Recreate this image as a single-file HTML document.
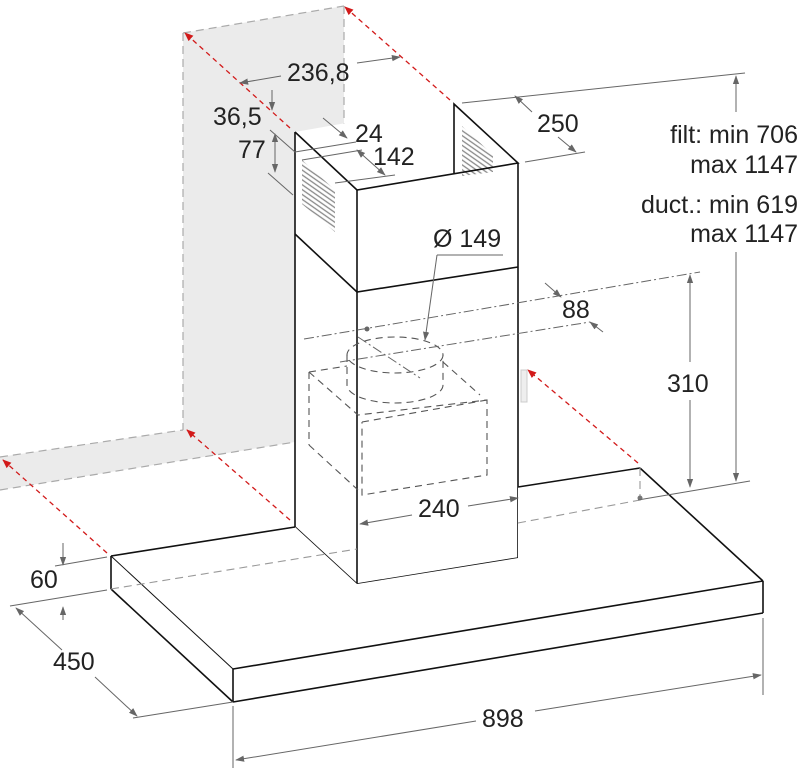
<!DOCTYPE html>
<html><head><meta charset="utf-8"><style>
html,body{margin:0;padding:0;background:#fff;}
svg{display:block;}
text{font-family:"Liberation Sans",sans-serif;font-size:25px;fill:#222;}
</style></head><body>
<svg width="800" height="775" viewBox="0 0 800 775" xmlns="http://www.w3.org/2000/svg">
<defs>
<marker id="r" viewBox="0 0 10 10" refX="9" refY="5" markerWidth="9" markerHeight="9" markerUnits="userSpaceOnUse" orient="auto"><path d="M0,1 L10,5 L0,9 z" fill="#d21a1a"/></marker>
<marker id="g" viewBox="0 0 10 10" refX="9" refY="5" markerWidth="9" markerHeight="9" markerUnits="userSpaceOnUse" orient="auto"><path d="M0,1.5 L10,5 L0,8.5 z" fill="#666"/></marker>
<marker id="gs" viewBox="0 0 10 10" refX="1" refY="5" markerWidth="9" markerHeight="9" markerUnits="userSpaceOnUse" orient="auto"><path d="M10,1.5 L0,5 L10,8.5 z" fill="#666"/></marker>
<pattern id="vent" width="4" height="4" patternUnits="userSpaceOnUse" patternTransform="rotate(35)"><line x1="0" y1="2" x2="4" y2="2" stroke="#888" stroke-width="1.3"/></pattern>
</defs>

<!-- gray wall -->
<polygon points="183,33 344,6 344,434 0,490 0,457 183,430" fill="#ebebeb"/>
<g stroke="#aaa" stroke-width="1.2" stroke-dasharray="8,5" fill="none">
<line x1="183" y1="33" x2="344" y2="6"/>
<line x1="183" y1="33" x2="183" y2="430"/>
<line x1="344" y1="6" x2="344" y2="140"/>
<line x1="0" y1="457" x2="183" y2="430"/>
<line x1="0" y1="490" x2="295" y2="442"/>
</g>
<rect x="521" y="370" width="6" height="32" fill="#eee" stroke="#ccc" stroke-width="1"/>

<!-- chimney -->
<polygon points="295,132 454,104 518,163 518,558 357,584 295,527" fill="#fff"/>
<polygon points="302,160 335,190 335,232 302,204" fill="url(#vent)"/>
<polygon points="462,126 493,155 493,172 462,176" fill="url(#vent)"/>
<g stroke="#111" stroke-width="1.6" fill="none">
<polyline points="295,132 357,190 518,163 454,104 454,173"/>
<line x1="295" y1="132" x2="295" y2="527"/>
<line x1="357" y1="190" x2="357" y2="584"/>
<line x1="518" y1="163" x2="518" y2="558"/>
<polyline points="295,234 357,292 518,267"/>
<polyline points="295,527 357,584 518,558"/>
</g>

<!-- box -->
<polygon points="111,556 295,527 295,527 357,584 518,558 518,487 640,468 763,581 763,613 233,702 111,589" fill="#fff"/>
<g stroke="#111" stroke-width="1.6" fill="none">
<line x1="111" y1="556" x2="295" y2="527"/>
<line x1="518" y1="487" x2="640" y2="468"/>
<line x1="640" y1="468" x2="763" y2="581"/>
<line x1="233" y1="669" x2="763" y2="581"/>
<line x1="763" y1="581" x2="763" y2="613"/>
<line x1="233" y1="702" x2="763" y2="613"/>
<line x1="111" y1="556" x2="233" y2="669" stroke-width="1"/>
<line x1="111" y1="589" x2="233" y2="702"/>
<line x1="111" y1="556" x2="111" y2="589"/>
<line x1="233" y1="669" x2="233" y2="702"/>
</g>
<g stroke="#999" stroke-width="1.1" stroke-dasharray="8,5" fill="none">
<line x1="111" y1="589" x2="357" y2="549"/>
<line x1="518" y1="523" x2="640" y2="500"/>
<line x1="640" y1="468" x2="640" y2="497"/>
</g>
<circle cx="640" cy="498" r="2.5" fill="#777"/>

<!-- hidden motor / duct -->
<g stroke="#555" stroke-width="1.1" stroke-dasharray="7,5" fill="none">
<ellipse cx="395" cy="355" rx="48" ry="18"/>
<path d="M347,355 L347,385 A48,18 0 0 0 443,385 L443,355"/>
<polyline points="309,372 358,415 487,400 487,475 362,495 362,422"/>
<line x1="309" y1="372" x2="309" y2="445"/>
<line x1="309" y1="445" x2="358" y2="490"/>
<line x1="309" y1="372" x2="347" y2="366"/>
<line x1="443" y1="362" x2="480" y2="395"/>
<line x1="362" y1="422" x2="487" y2="400"/>
</g>
<g stroke="#666" stroke-width="1" stroke-dasharray="10,3,2,3" fill="none">
<line x1="304" y1="339" x2="700" y2="272"/>
<line x1="340" y1="362" x2="590" y2="322"/>
<line x1="358" y1="337" x2="420" y2="378"/>
</g>
<circle cx="367" cy="329" r="2.5" fill="#666"/>

<!-- red arrows -->
<g stroke="#d21a1a" stroke-width="1.3" stroke-dasharray="5,4" fill="none">
<line x1="290" y1="128" x2="185" y2="33" marker-end="url(#r)"/>
<line x1="450" y1="100" x2="345" y2="7" marker-end="url(#r)"/>
<line x1="107" y1="553" x2="3" y2="460" marker-end="url(#r)"/>
<line x1="290" y1="520" x2="187" y2="430" marker-end="url(#r)"/>
<line x1="638" y1="463" x2="528" y2="370" marker-end="url(#r)"/>
</g>

<!-- dimension lines -->
<g stroke="#666" stroke-width="1" fill="none">
<line x1="281" y1="76" x2="240" y2="83" marker-end="url(#g)"/>
<line x1="357" y1="63" x2="400" y2="57" marker-end="url(#g)"/>
<line x1="272" y1="90" x2="272" y2="110" marker-end="url(#g)"/>
<line x1="270" y1="130" x2="295" y2="152"/>
<line x1="268" y1="173" x2="293" y2="195"/>
<line x1="275" y1="134" x2="275" y2="172" marker-start="url(#gs)" marker-end="url(#g)"/>
<line x1="323" y1="118" x2="347" y2="138" marker-end="url(#g)"/>
<line x1="295" y1="152" x2="356" y2="142"/>
<line x1="302" y1="160" x2="362" y2="150"/>
<line x1="357" y1="150" x2="385" y2="175" marker-start="url(#gs)" marker-end="url(#g)"/>
<line x1="335" y1="183" x2="395" y2="175"/>
<line x1="437" y1="255" x2="503" y2="255"/>
<line x1="437" y1="255" x2="425" y2="340" marker-end="url(#g)"/>
<line x1="462" y1="103" x2="745" y2="73"/>
<line x1="525" y1="162" x2="585" y2="152"/>
<line x1="532" y1="112" x2="515" y2="96" marker-end="url(#g)"/>
<line x1="558" y1="137" x2="576" y2="152" marker-end="url(#g)"/>
<line x1="736" y1="112" x2="736" y2="76" marker-end="url(#g)"/>
<line x1="736" y1="252" x2="736" y2="481" marker-end="url(#g)"/>
<line x1="690" y1="362" x2="690" y2="275" marker-end="url(#g)"/>
<line x1="690" y1="400" x2="690" y2="487" marker-end="url(#g)"/>
<line x1="638" y1="500" x2="750" y2="481"/>
<line x1="545" y1="283" x2="561" y2="297" marker-end="url(#g)"/>
<line x1="603" y1="332" x2="590" y2="322" marker-end="url(#g)"/>
<line x1="412" y1="515" x2="360" y2="524" marker-end="url(#g)"/>
<line x1="468" y1="506" x2="518" y2="498" marker-end="url(#g)"/>
<line x1="55" y1="566" x2="107" y2="557"/>
<line x1="10" y1="606" x2="107" y2="590"/>
<line x1="63" y1="543" x2="63" y2="565" marker-end="url(#g)"/>
<line x1="63" y1="620" x2="63" y2="607" marker-end="url(#g)"/>
<line x1="62" y1="650" x2="16" y2="608" marker-end="url(#g)"/>
<line x1="95" y1="677" x2="137" y2="716" marker-end="url(#g)"/>
<line x1="133" y1="718" x2="233" y2="702"/>
<line x1="233" y1="706" x2="233" y2="768"/>
<line x1="763" y1="618" x2="763" y2="695"/>
<line x1="476" y1="721" x2="236" y2="760" marker-end="url(#g)"/>
<line x1="535" y1="711" x2="761" y2="675" marker-end="url(#g)"/>
</g>

<!-- labels -->
<text x="287" y="81">236,8</text>
<text x="213" y="125">36,5</text>
<text x="238" y="158">77</text>
<text x="355" y="142">24</text>
<text x="373" y="165">142</text>
<text x="433" y="247">Ø 149</text>
<text x="537" y="132">250</text>
<text x="798" y="143" text-anchor="end">filt: min 706</text>
<text x="798" y="173" text-anchor="end">max 1147</text>
<text x="798" y="213" text-anchor="end">duct.: min 619</text>
<text x="798" y="242" text-anchor="end">max 1147</text>
<text x="562" y="318">88</text>
<text x="667" y="392">310</text>
<text x="418" y="517">240</text>
<text x="30" y="588">60</text>
<text x="53" y="670">450</text>
<text x="482" y="727">898</text>
</svg>
</body></html>
